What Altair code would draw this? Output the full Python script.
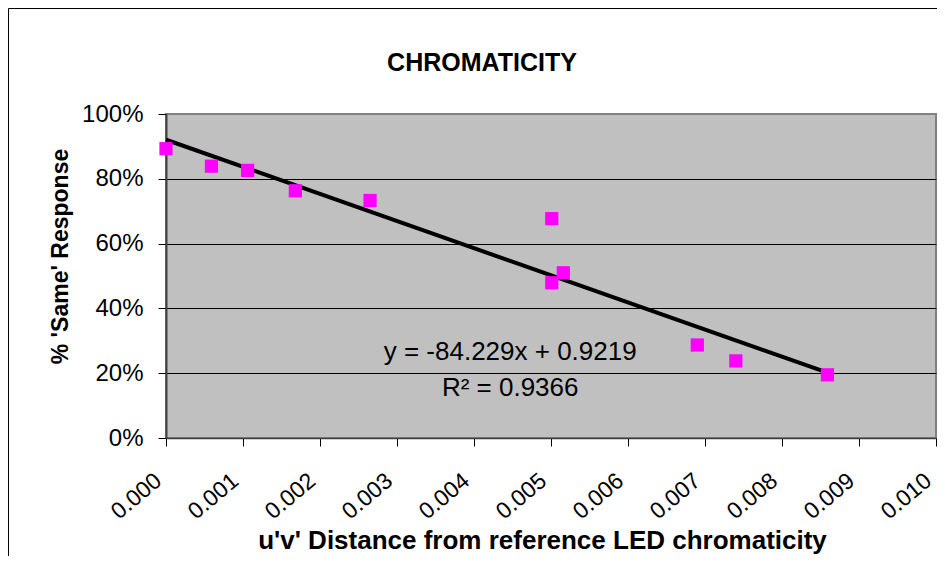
import altair as alt
import pandas as pd

# ---- data ----
x_dist = [0.0000, 0.00059, 0.00106, 0.00168, 0.00265, 0.00501, 0.00501, 0.00516, 0.00690, 0.00740, 0.00859]
same_pct = [0.893, 0.839, 0.826, 0.763, 0.733, 0.677, 0.479, 0.510, 0.287, 0.238, 0.195]
x_ticks = [0.000, 0.001, 0.002, 0.003, 0.004, 0.005, 0.006, 0.007, 0.008, 0.009, 0.010]
y_ticks = [0.0, 0.2, 0.4, 0.6, 0.8, 1.0]
title_text = "CHROMATICITY"
x_title = "u'v' Distance from reference LED chromaticity"
y_title = "% 'Same' Response"
eq_lines = ["y = -84.229x + 0.9219", "R² = 0.9366"]
eq_x = [0.00447, 0.00447]
eq_y = [0.266, 0.155]

W, H = 770, 324
PAD = {"left": 158, "top": 106, "right": 1, "bottom": 118}
FONT = "Liberation Sans"

df = pd.DataFrame({"x": x_dist, "y": same_pct})
df_eq = pd.DataFrame({"x": eq_x, "y": eq_y, "t": eq_lines})
df_one = pd.DataFrame({"t": [title_text]})

xs = alt.Scale(domain=[0, 0.010], nice=False, zero=False)
ys = alt.Scale(domain=[0, 1], nice=False)

x_axis = alt.Axis(
    values=x_ticks, format=".3f", labelAngle=-40, labelAlign="right", labelBaseline="top",
    labelFont=FONT, labelFontSize=23, labelColor="black", labelPadding=23, labelOffset=-15,
    labelFlush=False, labelOverlap=False, labelBound=False,
    tickSize=8, tickColor="black", tickWidth=1,
    domainColor="#404040", domainWidth=1.5, grid=False,
    title=x_title, titleFont=FONT, titleFontSize=26, titleFontWeight="bold", titleColor="black",
    titleX=376, titleY=102, titleAlign="center", titleBaseline="middle", titleAnchor="middle",
)
y_axis = alt.Axis(
    values=y_ticks, format=".0%",
    labelFont=FONT, labelFontSize=24, labelColor="black", labelPadding=15,
    labelFlush=False, labelOverlap=False,
    tickSize=8, tickColor="black", tickWidth=1,
    domainColor="#404040", domainWidth=2,
    grid=True, gridWidth=1,
    gridColor=alt.condition("datum.value >= 1", alt.value("#808080"), alt.value("black")),
    title=y_title, titleFont=FONT, titleFontSize=23, titleFontWeight="bold", titleColor="black",
    titleAngle=-90, titleX=-106, titleY=142, titleAlign="center", titleBaseline="middle",
)

x_enc = alt.X("x:Q", scale=xs, axis=x_axis)
y_enc = alt.Y("y:Q", scale=ys, axis=y_axis)

points = alt.Chart(df).mark_square(size=175, color="#FF00FF", opacity=1).encode(x=x_enc, y=y_enc)

trend = (
    alt.Chart(df)
    .transform_regression("x", "y")
    .mark_line(color="black", strokeWidth=4)
    .encode(x=x_enc, y=y_enc)
)

eq = alt.Chart(df_eq).mark_text(
    font=FONT, fontSize=26, color="black", align="center", baseline="middle"
).encode(x=x_enc, y=y_enc, text="t:N")

title = alt.Chart(df_one).mark_text(
    font=FONT, fontSize=25, fontWeight="bold", color="black", align="center", baseline="middle"
).encode(x=alt.value(316), y=alt.value(-51), text="t:N")

frame_left = alt.Chart(df_one).mark_rule(color="black", strokeWidth=1).encode(
    x=alt.value(-157.5), y=alt.value(-105.5), y2=alt.value(H + PAD["bottom"])
)
frame_top = alt.Chart(df_one).mark_rule(color="black", strokeWidth=1).encode(
    x=alt.value(-157.5), x2=alt.value(W + PAD["right"]), y=alt.value(-105.5)
)

chart = (
    alt.layer(frame_left, frame_top, trend, points, eq, title)
    .properties(width=W, height=H, autosize=alt.AutoSizeParams(type="none"), padding=PAD,
                background="white")
    .configure_view(fill="#C0C0C0", stroke="#808080", strokeWidth=2)
)

chart.save("out.html", embed_options={"renderer": "svg", "actions": False})
